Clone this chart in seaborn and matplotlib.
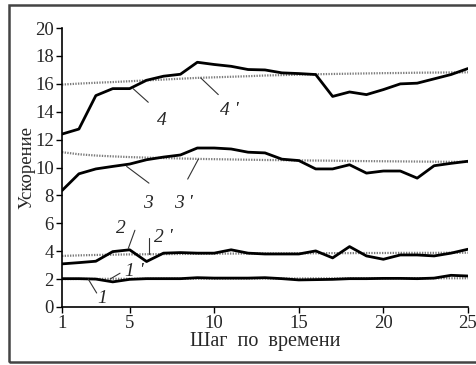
import pandas as pd
import matplotlib
matplotlib.use("Agg")
import matplotlib.pyplot as plt
import seaborn as sns
from matplotlib.patches import Rectangle

# Данные
shag = list(range(1, 26))

krivaya_1 = [2.03, 2.03, 2.00, 1.80, 1.98, 2.03, 2.03, 2.03, 2.10, 2.07, 2.07, 2.07, 2.10,
             2.03, 1.94, 1.96, 1.98, 2.03, 2.03, 2.05, 2.05, 2.03, 2.07, 2.27, 2.22]
krivaya_2 = [3.09, 3.18, 3.28, 3.97, 4.10, 3.26, 3.86, 3.90, 3.86, 3.86, 4.10, 3.86, 3.80,
             3.80, 3.80, 4.02, 3.52, 4.33, 3.66, 3.42, 3.73, 3.73, 3.66, 3.86, 4.14]
krivaya_3 = [8.35, 9.55, 9.90, 10.08, 10.25, 10.56, 10.75, 10.90, 11.40, 11.40, 11.33, 11.10, 11.05,
             10.60, 10.50, 9.90, 9.90, 10.20, 9.60, 9.75, 9.75, 9.24, 10.13, 10.30, 10.45]
krivaya_4 = [12.40, 12.76, 15.16, 15.66, 15.66, 16.26, 16.55, 16.69, 17.55, 17.39, 17.26, 17.03, 17.00,
             16.79, 16.74, 16.67, 15.10, 15.42, 15.23, 15.59, 16.00, 16.05, 16.36, 16.67, 17.10]

trend_1 = [2.00, 2.01, 2.01, 2.02, 2.02, 2.02, 2.03, 2.03, 2.03, 2.03, 2.04, 2.04, 2.04,
           2.04, 2.04, 2.05, 2.05, 2.05, 2.05, 2.05, 2.06, 2.06, 2.06, 2.06, 2.06]
trend_2 = [3.66, 3.70, 3.73, 3.75, 3.77, 3.78, 3.79, 3.80, 3.81, 3.82, 3.83, 3.83, 3.84,
           3.84, 3.85, 3.85, 3.86, 3.86, 3.87, 3.87, 3.88, 3.88, 3.88, 3.89, 3.89]
trend_3 = [11.10, 10.95, 10.86, 10.80, 10.75, 10.71, 10.68, 10.65, 10.62, 10.60, 10.58, 10.56, 10.54,
           10.53, 10.51, 10.50, 10.49, 10.47, 10.46, 10.45, 10.44, 10.43, 10.42, 10.41, 10.40]
trend_4 = [15.95, 16.02, 16.08, 16.13, 16.19, 16.25, 16.31, 16.37, 16.43, 16.47, 16.51, 16.55, 16.60,
           16.63, 16.66, 16.69, 16.71, 16.73, 16.75, 16.77, 16.78, 16.80, 16.81, 16.82, 16.83]

# Подписи кривых: текст, позиция подписи, начало и конец выноски
metki = ["1", "1 '", "2", "2 '", "3", "3 '", "4", "4 '"]
metki_xy = [(3.35, 0.6), (5.3, 2.55), (4.5, 5.6), (7.0, 4.95), (6.1, 7.45), (8.2, 7.45), (6.9, 13.4), (10.9, 14.1)]
vynoski_ot = [(2.55, 2.0), (4.43, 2.42), (4.92, 4.2), (6.16, 3.8), (4.82, 10.08), (9.06, 10.6), (5.2, 15.66), (9.2, 16.43)]
vynoski_do = [(3.05, 1.0), (3.84, 2.0), (5.31, 5.5), (6.16, 4.93), (6.14, 8.88), (8.43, 9.17), (6.1, 14.68), (10.24, 15.23)]

krivye = {"1": krivaya_1, "2": krivaya_2, "3": krivaya_3, "4": krivaya_4}
trendy = {"1'": trend_1, "2'": trend_2, "3'": trend_3, "4'": trend_4}

df_krivye = pd.concat([pd.DataFrame({"x": shag, "y": v, "k": k}) for k, v in krivye.items()])
df_trendy = pd.concat([pd.DataFrame({"x": shag, "y": v, "k": k}) for k, v in trendy.items()])

sns.set_theme(style="ticks")
plt.rcParams["font.family"] = ["Liberation Serif", "DejaVu Serif"]

fig = plt.figure(figsize=(4.77, 3.65), dpi=100)
ax = fig.add_axes([0.13, 0.159, 0.851, 0.764])

sns.lineplot(data=df_trendy, x="x", y="y", units="k", estimator=None, ax=ax,
             color="#7a7a7a", linewidth=1.6, linestyle=(0, (0.6, 0.6)), legend=False)
sns.lineplot(data=df_krivye, x="x", y="y", units="k", estimator=None, ax=ax,
             color="black", linewidth=2.0, legend=False)

for t, xy, a, b in zip(metki, metki_xy, vynoski_ot, vynoski_do):
    ax.plot([a[0], b[0]], [a[1], b[1]], color="#333333", linewidth=0.8)
    ax.text(xy[0], xy[1], t, fontsize=14, fontstyle="italic", ha="center", va="center")

ax.set_xlim(1, 25)
ax.set_ylim(0, 20)
ax.set_xticks([1, 5, 10, 15, 20, 25])
ax.set_yticks(range(0, 21, 2))
ax.tick_params(axis="both", labelsize=13.5, direction="out", length=4, width=1, color="black", pad=2)
ax.set_xlabel("Шаг  по  времени", fontsize=14.5, labelpad=0)
ax.set_ylabel("Ускорение", fontsize=13.5, labelpad=0)
sns.despine(ax=ax)
for s in ["left", "bottom"]:
    ax.spines[s].set_color("black")
    ax.spines[s].set_linewidth(1.2)

# рамка вокруг рисунка
fig.add_artist(Rectangle((9 / 477, 1 - 362 / 365), 1.2, (362 - 5) / 365, transform=fig.transFigure,
                         fill=False, edgecolor="#444444", linewidth=1.8, clip_on=False, zorder=10))

fig.savefig("out.png", dpi=100)
